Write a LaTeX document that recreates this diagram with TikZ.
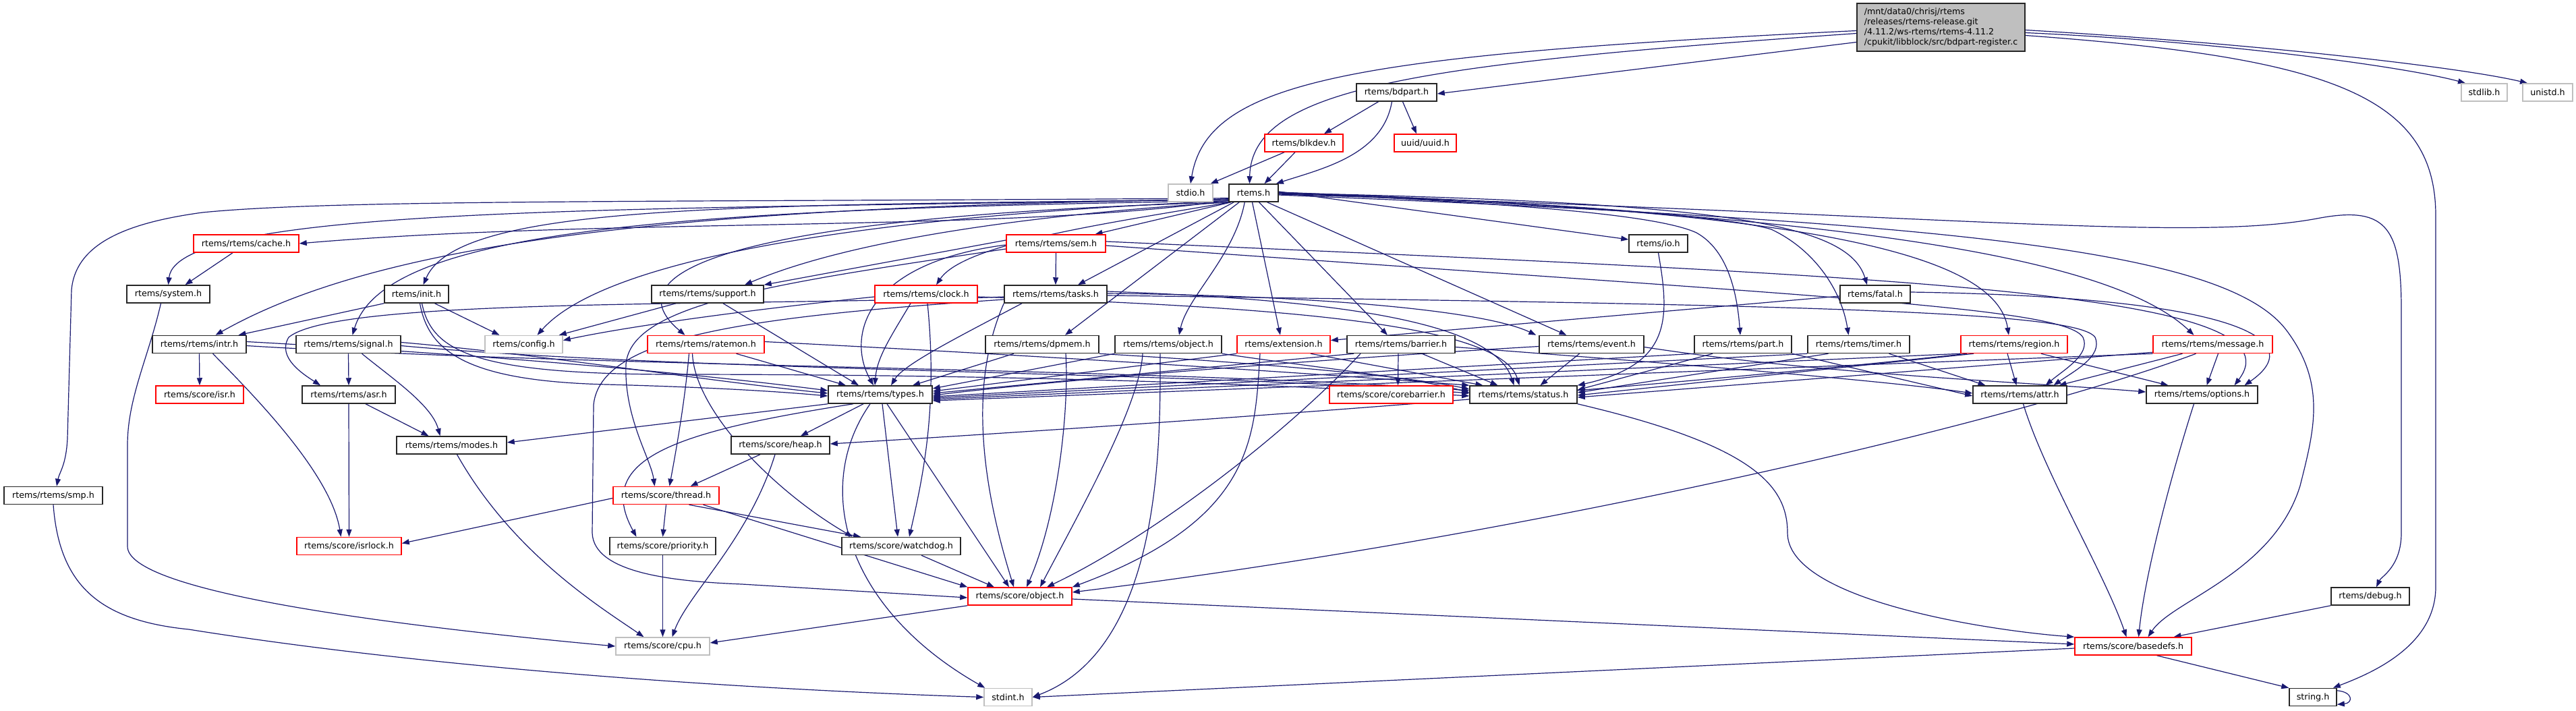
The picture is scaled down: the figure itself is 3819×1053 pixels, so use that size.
\documentclass[tikz,border=0pt]{standalone}
\usepackage{fontspec}
\setmainfont{DejaVu Sans}
\usetikzlibrary{arrows.meta,backgrounds}
\definecolor{eb}{RGB}{25,25,112}
\definecolor{gb}{RGB}{191,191,191}
\definecolor{rb}{RGB}{255,0,0}
\begin{document}
\begin{tikzpicture}[x=1pt,y=-1pt,
  nb/.style={draw=black!85,line width=1.5pt,fill=white,minimum height=26pt,inner sep=0pt,font=\fontsize{12.7}{14}\selectfont},
  nr/.style={nb,draw=rb},
  ng/.style={nb,draw=gb},
  e/.style={draw=eb,line width=1.2pt,-{Triangle[length=11pt,width=8pt]}}]
\useasboundingbox (0,0) rectangle (3819,1053);
% nodes
\node[nb,fill=gb,minimum width=249pt,minimum height=71pt,align=left,font=\fontsize{12.6}{14.7}\selectfont] (src) at (2877.5,40.5) {/mnt/data0/chrisj/rtems\\/releases/rtems-release.git\\/4.11.2/ws-rtems/rtems-4.11.2\\/cpukit/libblock/src/bdpart-register.c};
\node[ng,minimum width=66pt] (stdio) at (1765,286) {stdio.h};
\node[nb,minimum width=73pt] (rtems) at (1858.5,286) {rtems.h};
\node[nb,minimum width=119pt] (bdpart) at (2070.5,137) {rtems/bdpart.h};
\node[nr,minimum width=116pt] (blkdev) at (1933,212) {rtems/blkdev.h};
\node[nr,minimum width=92pt] (uuid) at (2113,212) {uuid/uuid.h};
\node[ng,minimum width=68pt] (stdlib) at (3683,137) {stdlib.h};
\node[ng,minimum width=74pt] (unistd) at (3777,137) {unistd.h};
\node[nb,minimum width=70pt] (string) at (3429,1033.5) {string.h};
\node[nr,minimum width=156pt] (cache) at (365,361) {rtems/rtems/cache.h};
\node[nr,minimum width=147pt] (sem) at (1565.5,361) {rtems/rtems/sem.h};
\node[nb,minimum width=87pt] (io) at (2458.5,361) {rtems/io.h};
\node[nb,minimum width=123pt] (system) at (249.5,436) {rtems/system.h};
\node[nb,minimum width=95pt] (init) at (617.5,436) {rtems/init.h};
\node[nb,minimum width=166pt] (support) at (1049,436) {rtems/rtems/support.h};
\node[nr,minimum width=152pt] (clock) at (1373,436) {rtems/rtems/clock.h};
\node[nb,minimum width=152pt] (tasks) at (1565,436) {rtems/rtems/tasks.h};
\node[nb,minimum width=104pt] (fatal) at (2780,436) {rtems/fatal.h};
\node[nb,minimum width=139pt] (intr) at (295.5,510.5) {rtems/rtems/intr.h};
\node[nb,minimum width=155pt] (signal) at (516.5,510.5) {rtems/rtems/signal.h};
\node[ng,minimum width=115pt] (config) at (776.5,510.5) {rtems/config.h};
\node[nr,minimum width=173pt] (ratemon) at (1046.5,510.5) {rtems/rtems/ratemon.h};
\node[nb,minimum width=168pt] (dpmem) at (1545,510.5) {rtems/rtems/dpmem.h};
\node[nb,minimum width=158pt] (robject) at (1732,510.5) {rtems/rtems/object.h};
\node[nr,minimum width=138pt] (extension) at (1903,510.5) {rtems/extension.h};
\node[nb,minimum width=160pt] (barrier) at (2077,510.5) {rtems/rtems/barrier.h};
\node[nb,minimum width=155pt] (event) at (2359.5,510.5) {rtems/rtems/event.h};
\node[nb,minimum width=144pt] (part) at (2584,510.5) {rtems/rtems/part.h};
\node[nb,minimum width=151pt] (timer) at (2755.5,510.5) {rtems/rtems/timer.h};
\node[nr,minimum width=158pt] (region) at (2986,510.5) {rtems/rtems/region.h};
\node[nr,minimum width=177pt] (message) at (3280.5,510.5) {rtems/rtems/message.h};
\node[nr,minimum width=130pt] (isr) at (296,585) {rtems/score/isr.h};
\node[nb,minimum width=138pt] (asr) at (517,585) {rtems/rtems/asr.h};
\node[nb,minimum width=154pt] (types) at (1305,585) {rtems/rtems/types.h};
\node[nr,minimum width=183pt] (corebarrier) at (2062.5,585) {rtems/score/corebarrier.h};
\node[nb,minimum width=159pt] (status) at (2258.5,585) {rtems/rtems/status.h};
\node[nb,minimum width=139pt] (attr) at (2994.5,585) {rtems/rtems/attr.h};
\node[nb,minimum width=165pt] (options) at (3264.5,585) {rtems/rtems/options.h};
\node[nb,minimum width=163pt] (modes) at (669.5,660) {rtems/rtems/modes.h};
\node[nb,minimum width=146pt] (heap) at (1157,660) {rtems/score/heap.h};
\node[nb,minimum width=146pt] (smp) at (79,734.5) {rtems/rtems/smp.h};
\node[nr,minimum width=157pt] (thread) at (987.5,734.5) {rtems/score/thread.h};
\node[nr,minimum width=155pt] (isrlock) at (517.5,809.5) {rtems/score/isrlock.h};
\node[nb,minimum width=157pt] (priority) at (982.5,809.5) {rtems/score/priority.h};
\node[nb,minimum width=176pt] (watchdog) at (1336,809.5) {rtems/score/watchdog.h};
\node[nr,minimum width=154pt] (sobject) at (1512,884) {rtems/score/object.h};
\node[nb,minimum width=116pt] (debug) at (3514,884) {rtems/debug.h};
\node[ng,minimum width=139pt] (cpu) at (982.5,958) {rtems/score/cpu.h};
\node[nr,minimum width=173pt] (basedefs) at (3162.5,958) {rtems/score/basedefs.h};
\node[ng,minimum width=71pt] (stdint) at (1494.5,1033.5) {stdint.h};
\begin{scope}[on background layer]
\fill[white] (0,0) rectangle (3819,1053);
% top
\draw[e] ([yshift=-5pt]src.west) .. controls (2000,82) and (1790,120) .. (stdio.north);
\draw[e] ([yshift=-9pt]src.west) .. controls (2100,95) and (1855,130) .. ([xshift=-6pt]rtems.north);
\draw[e] ([yshift=-22pt]src.west) -- ([yshift=-2pt]bdpart.east);
\draw[e] ([yshift=-8pt]src.east) .. controls (3300,62) and (3570,100) .. ([xshift=-28pt]stdlib.north);
\draw[e] ([yshift=-4pt]src.east) .. controls (3350,65) and (3650,100) .. ([xshift=-30pt]unistd.north);
\draw[e] ([yshift=-12pt]src.east) .. controls (3450,85) and (3611,140) .. (3611,320) -- (3611,870) .. controls (3611,960) and (3510,1000) .. ([xshift=-6pt]string.north east);
\draw[e] ([yshift=-4pt]string.north east) .. controls +(24,2) and +(24,-2) .. ([yshift=3pt]string.south east);
\draw[e] ([xshift=-27pt]bdpart.south) -- ([xshift=30pt]blkdev.north);
\draw[e] ([xshift=9pt]bdpart.south) -- ([xshift=-13pt]uuid.north);
\draw[e] ([xshift=-7pt]bdpart.south) .. controls (2050,230) and (1960,250) .. ([xshift=-4pt]rtems.north east);
\draw[e] ([xshift=-29pt]blkdev.south) -- ([xshift=-4pt]stdio.north east);
\draw[e] ([xshift=-13pt]blkdev.south) -- ([xshift=16pt]rtems.north);
% rtems left
\draw[e] ([yshift=3pt]rtems.south west) .. controls (1500,345) and (900,322) .. (cache.east);
\draw[e] ([yshift=5pt]rtems.south west) .. controls (1000,312) and (262,300) .. (system.north);
\draw[e] ([yshift=6pt]rtems.south west) .. controls (1000,300) and (500,295) .. (300,315) .. controls (190,330) and (112,360) .. (106,430) -- (100,650) .. controls (98,690) and (88,700) .. ([xshift=5pt]smp.north);
\draw[e] ([yshift=4pt]rtems.south west) .. controls (1000,305) and (560,360) .. ([xshift=24pt]intr.north);
\draw[e] ([yshift=4pt]rtems.south west) .. controls (1100,305) and (680,300) .. ([xshift=10pt]init.north);
\draw[e] ([yshift=2pt]rtems.south west) .. controls (1000,310) and (570,340) .. ([xshift=6pt]signal.north);
\draw[e] ([yshift=2pt]rtems.south west) .. controls (1300,320) and (900,380) .. ([xshift=20pt]config.north);
\draw[e] (rtems.south west) .. controls (1500,320) and (1250,360) .. ([xshift=55pt]support.north);
\draw[e] (rtems.south west) .. controls (1100,320) and (900,400) .. ([xshift=-31pt]ratemon.north);
\draw[e] ([xshift=4pt]rtems.south west) -- ([xshift=58pt]sem.north);
\draw[e] ([xshift=2pt]rtems.south west) .. controls (1650,330) and (1430,360) .. ([xshift=15pt]clock.north);
\draw[e] ([xshift=8pt]rtems.south west) -- ([xshift=33pt]tasks.north);
\draw[e] ([xshift=16pt]rtems.south west) -- ([xshift=34pt]dpmem.north);
\draw[e] ([xshift=24pt]rtems.south west) .. controls (1830,380) and (1760,440) .. ([xshift=16pt]robject.north);
\draw[e] ([xshift=-2pt]rtems.south) -- ([xshift=-5pt]extension.north);
\draw[e] ([xshift=8pt]rtems.south) -- ([xshift=-20pt]barrier.north);
\draw[e] ([xshift=20pt]rtems.south) -- ([xshift=-37pt]event.north);
% rtems right
\draw[e] ([yshift=2pt]rtems.east) -- ([yshift=6pt]io.west);
\draw[e] ([yshift=1pt]rtems.east) .. controls (2200,300) and (2450,315) .. (2515,345) .. controls (2560,370) and (2575,430) .. ([xshift=-4pt]part.north);
\draw[e] ([yshift=1pt]rtems.east) .. controls (2300,300) and (2560,320) .. (2626,340) .. controls (2690,370) and (2730,430) .. ([xshift=-15pt]timer.north);
\draw[e] (rtems.east) .. controls (2550,300) and (2740,330) .. ([xshift=-12pt]fatal.north);
\draw[e] (rtems.east) .. controls (2700,310) and (2960,380) .. ([xshift=-8pt]region.north);
\draw[e] ([yshift=-1pt]rtems.east) .. controls (2850,320) and (3150,400) .. ([xshift=-28pt]message.north);
\draw[e] ([yshift=-2pt]rtems.east) .. controls (2900,318) and (3250,360) .. (3440,323) .. controls (3540,305) and (3560,340) .. (3560,460) -- (3560,790) .. controls (3560,840) and (3530,855) .. ([xshift=9pt]debug.north);
\draw[e] ([yshift=-3pt]rtems.east) .. controls (2900,330) and (3300,370) .. (3390,490) .. controls (3450,570) and (3430,640) .. (3410,720) .. controls (3370,850) and (3220,890) .. ([xshift=22pt]basedefs.north);
% left rows
\draw[e] ([xshift=-20pt]cache.south) -- ([xshift=25pt]system.north);
\draw[e] ([xshift=-11pt]system.south) .. controls (220,530) and (189,590) .. (189,660) -- (189,810) .. controls (189,870) and (500,920) .. (cpu.west);
\draw[e] (smp.south) .. controls (88,870) and (150,920) .. (280,933) .. controls (700,1000) and (1200,1025) .. (stdint.west);
\draw[e] (intr.south) -- (isr.north);
\draw[e] ([xshift=20pt]intr.south) .. controls (370,580) and (490,700) .. ([xshift=-12pt]isrlock.north);
\draw[e] ([yshift=4pt]intr.east) .. controls (700,525) and (1000,550) .. ([yshift=6pt]types.west);
\draw[e] ([yshift=-2pt]intr.east) .. controls (900,545) and (1700,545) .. ([yshift=6pt]status.west);
\draw[e] (signal.south) -- (asr.north);
\draw[e] ([xshift=20pt]signal.south) .. controls (580,560) and (640,600) .. ([xshift=-17pt]modes.north);
\draw[e] ([yshift=3pt]signal.east) .. controls (800,525) and (1050,565) .. ([yshift=2pt]types.west);
\draw[e] ([yshift=-2pt]signal.east) .. controls (1000,550) and (1800,552) .. ([yshift=2pt]status.west);
\draw[e] ([xshift=25pt]asr.south) -- ([xshift=-34pt]modes.north);
\draw[e] (asr.south) -- (isrlock.north);
\draw[e] (init.south west) -- ([xshift=58pt]intr.north);
\draw[e] ([xshift=27pt]init.south) -- ([xshift=-36pt]config.north);
\draw[e] ([xshift=5pt]init.south) .. controls (635,520) and (690,565) .. (900,570) .. controls (1050,574) and (1150,580) .. ([yshift=-2pt]types.west);
\draw[e] ([xshift=8pt]init.south) .. controls (640,520) and (700,555) .. (1000,555) .. controls (1500,555) and (1900,570) .. ([yshift=-2pt]status.west);
\draw[e] ([xshift=23pt]support.south) -- ([xshift=-32pt]types.north);
\draw[e] ([xshift=-47pt]support.south) -- ([xshift=-6pt]config.north east);
% sem
\draw[e] ([yshift=5pt]sem.west) -- (support.north east);
\draw[e] (sem.south) -- (tasks.north);
\draw[e] ([yshift=-2pt]sem.west) .. controls (1280,390) and (1255,500) .. ([xshift=-10pt]types.north);
\draw[e] ([yshift=-8pt]sem.west) .. controls (1150,420) and (935,450) .. (928,540) .. controls (925,620) and (965,680) .. ([xshift=-17pt]thread.north);
\draw[e] ([yshift=-3pt]sem.east) .. controls (2700,440) and (3060,455) .. (3088,500) .. controls (3100,525) and (3060,548) .. ([xshift=38pt]attr.north);
\draw[e] ([yshift=3pt]sem.east) .. controls (2800,410) and (3420,430) .. ([xshift=48pt]options.north);
% clock
\draw[e] ([xshift=-23pt]clock.south) .. controls (1320,500) and (1300,530) .. ([xshift=-8pt]types.north);
\draw[e] ([yshift=-4pt]clock.west) .. controls (1150,455) and (950,480) .. ([yshift=6pt]config.east);
\draw[e] ([xshift=2pt]clock.south) .. controls (1390,600) and (1370,700) .. ([xshift=12pt]watchdog.north);
\draw[e] ([yshift=-4pt]clock.east) .. controls (1900,455) and (2225,480) .. ([xshift=-6pt]status.north);
% tasks
\draw[e] ([xshift=-50pt]tasks.south) .. controls (1420,500) and (1340,540) .. ([xshift=16pt]types.north);
\draw[e] ([yshift=-4pt]tasks.west) .. controls (1100,455) and (500,440) .. (428,500) .. controls (410,530) and (450,555) .. ([xshift=-42pt]asr.north);
\draw[e] ([yshift=-8pt]tasks.west) .. controls (1100,470) and (890,500) .. (880,600) -- (878,790) .. controls (880,850) and (1000,862) .. (1100,866) -- ([yshift=-2pt]sobject.west);
\draw[e] (tasks.south west) .. controls (1440,560) and (1450,700) .. ([xshift=-9pt]sobject.north);
\draw[e] ([yshift=4pt]tasks.east) .. controls (2000,445) and (2215,480) .. ([xshift=-14pt]status.north);
\draw[e] ([yshift=-2pt]tasks.east) .. controls (2700,452) and (3080,462) .. (3106,500) .. controls (3118,528) and (3075,550) .. ([xshift=50pt]attr.north);
\draw[e] ([yshift=1pt]tasks.east) .. controls (1950,438) and (2200,460) .. ([xshift=-4pt]event.north west);
% ratemon
\draw[e] ([xshift=45pt]ratemon.south) -- ([xshift=-51pt]types.north);
\draw[e] ([yshift=4pt]ratemon.east) .. controls (1500,525) and (1900,550) .. (status.north west);
\draw[e] ([xshift=-25pt]ratemon.south) .. controls (1015,600) and (1000,680) .. ([xshift=5pt]thread.north);
\draw[e] ([xshift=-20pt]ratemon.south) .. controls (1030,610) and (1150,730) .. ([xshift=-72pt]watchdog.north);
% dpmem, object
\draw[e] ([xshift=-42pt]dpmem.south) -- ([xshift=48pt]types.north);
\draw[e] ([xshift=35pt]dpmem.south) .. controls (1585,600) and (1570,760) .. ([xshift=10pt]sobject.north);
\draw[e] (dpmem.south east) .. controls (1900,540) and (2100,560) .. ([yshift=8pt]status.west);
\draw[e] (robject.south west) -- ([yshift=9pt]types.east);
\draw[e] ([xshift=-38pt]robject.south) .. controls (1690,600) and (1600,760) .. ([xshift=30pt]sobject.north);
\draw[e] ([xshift=-12pt]robject.south) .. controls (1720,650) and (1725,960) .. (stdint.east);
\draw[e] (robject.south east) .. controls (1950,545) and (2100,560) .. ([yshift=3pt]status.west);
% extension, barrier, event, io
\draw[e] (extension.south west) -- ([yshift=5pt]types.east);
\draw[e] ([xshift=-35pt]extension.south) .. controls (1860,650) and (1860,770) .. (sobject.north east);
\draw[e] ([xshift=40pt]extension.south) -- ([xshift=-60pt]status.north);
\draw[e] ([xshift=-70pt]barrier.south) -- ([yshift=2pt]types.east);
\draw[e] ([xshift=-4pt]barrier.south) -- ([xshift=10pt]corebarrier.north);
\draw[e] ([xshift=31pt]barrier.south) -- ([xshift=-38pt]status.north);
\draw[e] ([xshift=-60pt]barrier.south) .. controls (1900,650) and (1700,800) .. ([xshift=40pt]sobject.north);
\draw[e] ([yshift=-4pt]barrier.east) .. controls (2500,540) and (2800,565) .. ([yshift=2pt]attr.west);
\draw[e] ([yshift=-3pt]event.west) .. controls (2000,530) and (1600,560) .. ([yshift=-1pt]types.east);
\draw[e] ([xshift=-18pt]event.south) -- ([xshift=25pt]status.north);
\draw[e] ([yshift=-4pt]event.east) .. controls (2700,555) and (3000,566) .. ([yshift=4pt]options.west);
\draw[e] (io.south) .. controls (2475,470) and (2480,540) .. (status.north east);
% part, timer, region, message, fatal
\draw[e] (part.south west) -- ([yshift=-3pt]types.east);
\draw[e] ([xshift=-45pt]part.south) -- ([yshift=7pt]status.east);
\draw[e] (part.south east) -- ([yshift=-2pt]attr.west);
\draw[e] (timer.south west) -- ([yshift=-5pt]types.east);
\draw[e] ([xshift=-45pt]timer.south) -- ([yshift=3pt]status.east);
\draw[e] ([xshift=45pt]timer.south) -- ([xshift=-51pt]attr.north);
\draw[e] (region.south west) -- ([yshift=-7pt]types.east);
\draw[e] ([xshift=-60pt]region.south) -- ([yshift=-1pt]status.east);
\draw[e] ([xshift=-10pt]region.south) -- ([xshift=-5pt]attr.north);
\draw[e] ([xshift=40pt]region.south) -- ([xshift=-50pt]options.north);
\draw[e] ([xshift=-70pt]region.south) .. controls (2400,580) and (1700,630) .. ([yshift=2pt]heap.east);
\draw[e] (message.south west) -- ([yshift=-9pt]types.east);
\draw[e] ([yshift=2pt]message.south west) -- ([yshift=-4pt]status.east);
\draw[e] ([xshift=-45pt]message.south) -- ([xshift=58pt]attr.north);
\draw[e] ([xshift=8pt]message.south) -- ([xshift=7pt]options.north);
\draw[e] ([xshift=-25pt]message.south) .. controls (3000,620) and (2300,790) .. ([yshift=6pt]sobject.east);
\draw[e] ([yshift=-3pt]fatal.west) -- ([yshift=6pt]extension.east);
\draw[e] ([yshift=3pt]fatal.east) .. controls (3300,440) and (3430,500) .. ([xshift=63pt]options.north);
% types bottom
\draw[e] (types.south west) -- ([yshift=4pt]modes.east);
\draw[e] ([xshift=-25pt]types.south) -- ([xshift=30pt]heap.north);
\draw[e] ([xshift=-40pt]types.south) .. controls (1000,640) and (880,680) .. ([xshift=-39pt]priority.north);
\draw[e] ([xshift=3pt]types.south) -- ([xshift=-5pt]watchdog.north);
\draw[e] ([xshift=10pt]types.south) -- ([xshift=-16pt]sobject.north);
\draw[e] ([xshift=-15pt]types.south) .. controls (1205,720) and (1250,900) .. ([xshift=2pt]stdint.north west);
% lower
\draw[e] ([xshift=-30pt]heap.south) -- ([xshift=36pt]thread.north);
\draw[e] ([xshift=-8pt]heap.south) .. controls (1110,800) and (1020,880) .. ([xshift=14pt]cpu.north);
\draw[e] ([yshift=-4pt]thread.west) -- ([yshift=4pt]isrlock.east);
\draw[e] (thread.south) -- (priority.north);
\draw[e] ([xshift=34pt]thread.south) -- ([xshift=-60pt]watchdog.north);
\draw[e] ([xshift=55pt]thread.south) -- (sobject.north west);
\draw[e] (priority.south) -- (cpu.north);
\draw[e] ([xshift=30pt]watchdog.south) -- ([xshift=-38pt]sobject.north);
\draw[e] ([xshift=8pt]modes.south) .. controls (760,820) and (890,900) .. ([xshift=-28pt]cpu.north);
\draw[e] (sobject.south west) -- ([yshift=5pt]cpu.east);
\draw[e] ([yshift=-4pt]sobject.east) -- ([yshift=3pt]basedefs.west);
\draw[e] (status.south east) .. controls (2600,660) and (2650,720) .. (2650,790) .. controls (2650,890) and (2950,935) .. (basedefs.north west);
\draw[e] ([xshift=5pt]attr.south) .. controls (3030,700) and (3120,850) .. ([xshift=-10pt]basedefs.north);
\draw[e] ([xshift=-12pt]options.south) .. controls (3220,700) and (3180,850) .. ([xshift=8pt]basedefs.north);
\draw[e] (debug.south west) -- ([xshift=60pt]basedefs.north);
\draw[e] ([yshift=-3pt]basedefs.west) -- (stdint.east);
\draw[e] ([xshift=35pt]basedefs.south) -- (string.north west);
\end{scope}
\end{tikzpicture}
\end{document}
